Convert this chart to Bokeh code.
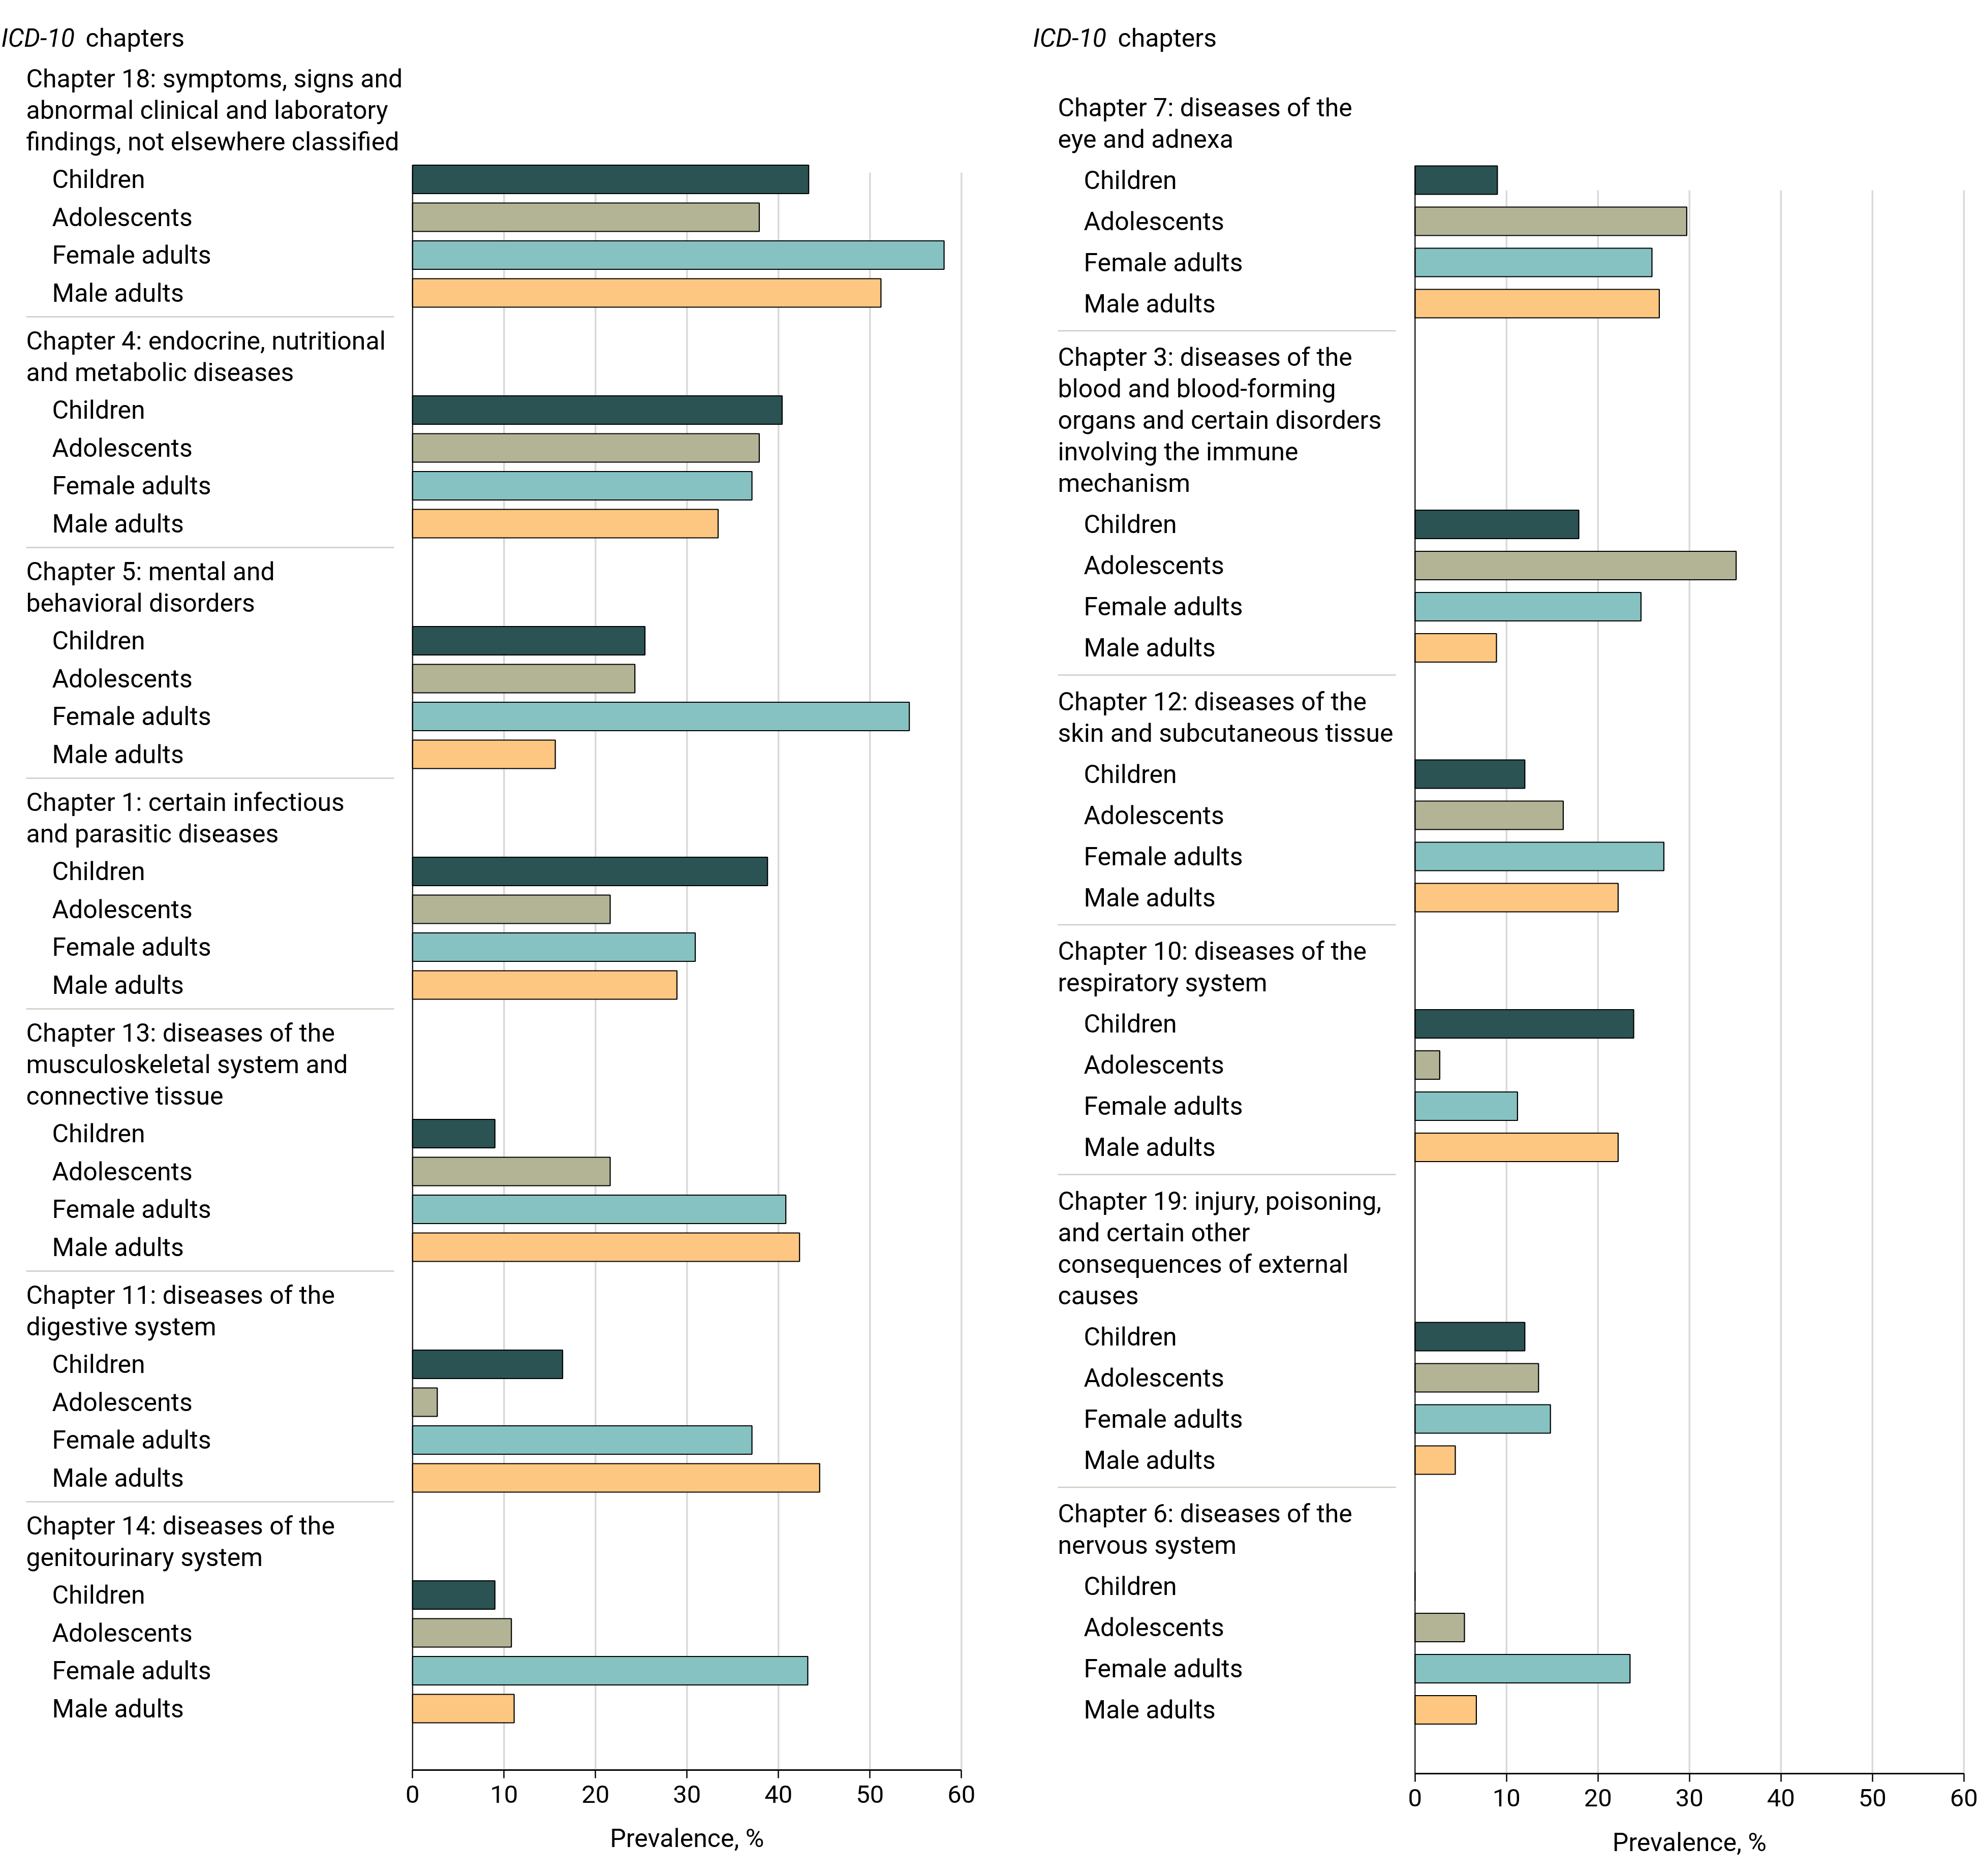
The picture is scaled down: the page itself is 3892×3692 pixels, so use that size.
from bokeh.plotting import figure
from bokeh.models import Range1d, FixedTicker
from bokeh.layouts import row
from bokeh.core.properties import value
from bokeh.embed import file_html
from bokeh.resources import INLINE

# ---------------- data ----------------
GROUPS = ["Children", "Adolescents", "Female adults", "Male adults"]
COLORS = ["#2B5353", "#B3B496", "#86C2C1", "#FEC781"]
TICKS = [0, 10, 20, 30, 40, 50, 60]

LEFT_CHAPTERS = [
    "Chapter 18: symptoms, signs and\nabnormal clinical and laboratory\nfindings, not elsewhere classified",
    "Chapter 4: endocrine, nutritional\nand metabolic diseases",
    "Chapter 5: mental and\nbehavioral disorders",
    "Chapter 1: certain infectious\nand parasitic diseases",
    "Chapter 13: diseases of the\nmusculoskeletal system and\nconnective tissue",
    "Chapter 11: diseases of the\ndigestive system",
    "Chapter 14: diseases of the\ngenitourinary system",
]
LEFT_CHILDREN = [43.3, 40.4, 25.4, 38.8, 9.0, 16.4, 9.0]
LEFT_ADOLESCENTS = [37.9, 37.9, 24.3, 21.6, 21.6, 2.7, 10.8]
LEFT_FEMALE = [58.1, 37.1, 54.3, 30.9, 40.8, 37.1, 43.2]
LEFT_MALE = [51.2, 33.4, 15.6, 28.9, 42.3, 44.5, 11.1]

RIGHT_CHAPTERS = [
    "Chapter 7: diseases of the\neye and adnexa",
    "Chapter 3: diseases of the\nblood and blood-forming\norgans and certain disorders\ninvolving the immune\nmechanism",
    "Chapter 12: diseases of the\nskin and subcutaneous tissue",
    "Chapter 10: diseases of the\nrespiratory system",
    "Chapter 19: injury, poisoning,\nand certain other\nconsequences of external\ncauses",
    "Chapter 6: diseases of the\nnervous system",
]
RIGHT_CHILDREN = [9.0, 17.9, 12.0, 23.9, 12.0, 0.0]
RIGHT_ADOLESCENTS = [29.7, 35.1, 16.2, 2.7, 13.5, 5.4]
RIGHT_FEMALE = [25.9, 24.7, 27.2, 11.2, 14.8, 23.5]
RIGHT_MALE = [26.7, 8.9, 22.2, 22.2, 4.4, 6.7]

TITLE_ITALIC = "ICD-10"
TITLE_REST = "chapters"
X_LABEL = "Prevalence, %"

FONT = "Roboto"
FS = "50px"
PX = 18.0  # pixels per percentage point
PAGE_H = 3692


def build(chapters, series, page_left, page_width, origin, axis_y, grid_top,
          row0, R, L, a, b, off_title, off_chap, off_head, off_row, sep_len,
          label_dy):
    x0 = (page_left - origin) / PX
    x1 = x0 + page_width / PX
    p = figure(frame_width=page_width, frame_height=PAGE_H,
               x_range=Range1d(x0, x1), y_range=Range1d(PAGE_H, 0),
               output_backend="svg", toolbar_location=None,
               min_border_left=0, min_border_right=0, min_border_top=0,
               min_border_bottom=0)
    p.outline_line_color = None
    p.xgrid.visible = False
    p.ygrid.visible = False
    p.yaxis.visible = False

    # layout of rows / headings
    head_y, head_t, row_ys, sep_y = [], [], [], []
    prev_last = None
    for i, ch in enumerate(chapters):
        lines = ch.split("\n")
        if i == 0:
            first_row = row0
            hstart = first_row - R - (len(lines) - 1) * L
        else:
            sep = prev_last + a
            sep_y.append(sep)
            hstart = sep + b
            first_row = hstart + (len(lines) - 1) * L + R
        for j, ln in enumerate(lines):
            head_y.append(hstart + j * L)
            head_t.append(ln)
        rws = [first_row + k * R for k in range(4)]
        row_ys.append(rws)
        prev_last = rws[-1]

    # grid lines
    p.segment(x0=TICKS, y0=[grid_top] * len(TICKS), x1=TICKS,
              y1=[axis_y] * len(TICKS), line_color="#D9D9D9", line_width=3.5)

    # bars
    bar_h = 56
    for g in range(4):
        ys = [rw[g] for rw in row_ys]
        p.hbar(y=ys, left=0, right=series[g], height=bar_h,
               fill_color=COLORS[g], line_color="#000000", line_width=2.2)

    # vertical zero line
    p.segment(x0=[0], y0=[row0 - bar_h / 2], x1=[0], y1=[axis_y],
              line_color="#000000", line_width=2)

    # separators
    sx0 = x0 + off_head / PX
    sx1 = x0 + (off_head + sep_len) / PX
    p.segment(x0=[sx0] * len(sep_y), y0=sep_y, x1=[sx1] * len(sep_y), y1=sep_y,
              line_color="#CBCEC3", line_width=2.5)

    common = dict(text_font=value(FONT), text_font_size=value(FS),
                  text_color="#000000", text_baseline="middle", text_align="left")
    # title
    p.text(x=[x0], y=[74.5], text=[TITLE_ITALIC], x_offset=off_title,
           text_font_style="italic", **common)
    p.text(x=[x0], y=[74.5], text=[TITLE_REST], x_offset=off_chap, **common)
    # headings
    p.text(x=[x0] * len(head_t), y=head_y, text=head_t, x_offset=off_head, **common)
    # row labels
    ry, rt = [], []
    for rw in row_ys:
        for g in range(4):
            ry.append(rw[g])
            rt.append(GROUPS[g])
    p.text(x=[x0] * len(rt), y=ry, text=rt, x_offset=off_row, **common)

    # x axis, fixed at the bottom of the bar area
    ax = p.xaxis[0]
    ax.fixed_location = axis_y
    ax.ticker = FixedTicker(ticks=TICKS)
    ax.bounds = (0, 60)
    ax.axis_line_width = 3
    ax.axis_line_color = "#000000"
    ax.major_tick_line_width = 2.5
    ax.major_tick_line_color = "#000000"
    ax.major_tick_out = 16
    ax.major_tick_in = 0
    ax.minor_tick_out = 0
    ax.minor_tick_in = 0
    ax.major_label_standoff = 14
    ax.major_label_text_font = FONT
    ax.major_label_text_font_size = "49px"
    ax.major_label_text_color = "#000000"

    # axis title centred on the 0-60 axis span
    mid = (TICKS[0] + TICKS[-1]) / 2
    p.text(x=[mid], y=[axis_y + label_dy], text=[X_LABEL],
           text_font=value(FONT), text_font_size=value(FS), text_color="#000000",
           text_baseline="middle", text_align="center")
    return p


left = build(LEFT_CHAPTERS, [LEFT_CHILDREN, LEFT_ADOLESCENTS, LEFT_FEMALE, LEFT_MALE],
             page_left=0, page_width=1998, origin=811.3, axis_y=3483, grid_top=339,
             row0=352.5, R=74.5, L=62, a=47, b=47,
             off_title=2, off_chap=168, off_head=51, off_row=102, sep_len=724,
             label_dy=134)
right = build(RIGHT_CHAPTERS, [RIGHT_CHILDREN, RIGHT_ADOLESCENTS, RIGHT_FEMALE, RIGHT_MALE],
              page_left=1998, page_width=1894, origin=2783.8, axis_y=3490, grid_top=374,
              row0=354, R=81, L=62, a=53.5, b=52,
              off_title=34, off_chap=201, off_head=83, off_row=134, sep_len=665,
              label_dy=135)

lay = row(left, right)
open("out.html", "w").write(file_html(lay, INLINE))
